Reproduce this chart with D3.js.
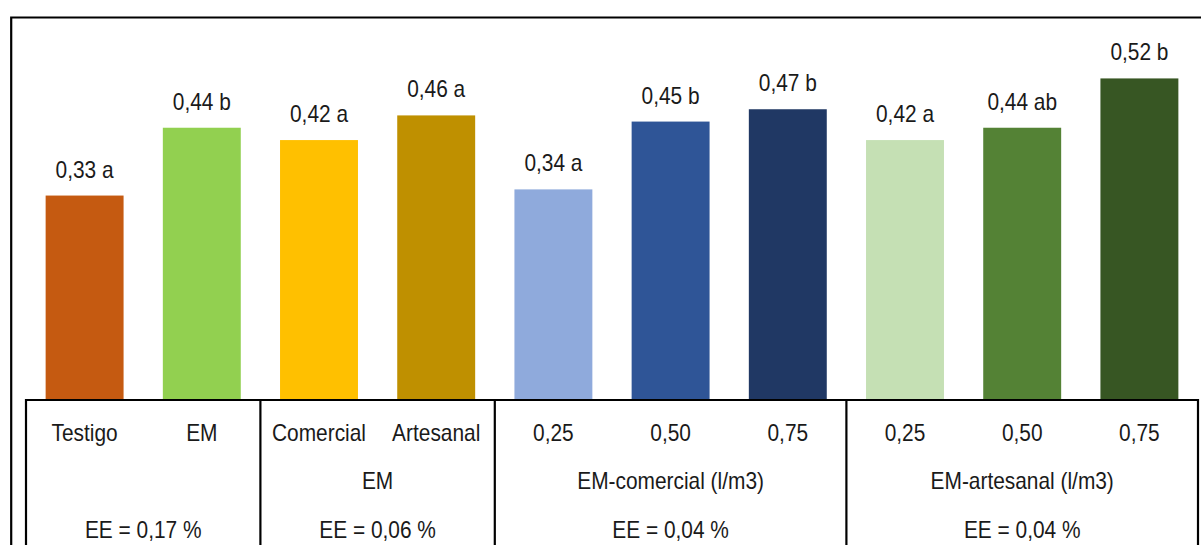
<!DOCTYPE html>
<html>
<head>
<meta charset="utf-8">
<script src="https://cdn.jsdelivr.net/npm/d3@7"></script>
<style>
  body { margin: 0; background: #fff; }
  svg text { font-family: "Liberation Sans", Arial, sans-serif; fill: #1a1a1a; }
</style>
</head>
<body>
<svg id="chart"></svg>
<script>
// bar values and significance letters
const categories = ["Testigo", "EM", "Comercial", "Artesanal", "0,25", "0,50", "0,75", "0,25", "0,50", "0,75"];
const values = [0.33, 0.44, 0.42, 0.46, 0.34, 0.45, 0.47, 0.42, 0.44, 0.52];
const letters = ["a", "b", "a", "a", "a", "b", "b", "a", "ab", "b"];
const colors = ["#C55A11", "#92D050", "#FFC000", "#BF9000", "#8FAADC", "#2F5597", "#203864", "#C5E0B4", "#548235", "#375623"];

// groups under the bars
const groupNames = ["", "EM", "EM-comercial (l/m3)", "EM-artesanal (l/m3)"];
const groupSizes = [2, 2, 3, 3];
const eeLabels = ["EE = 0,17 %", "EE = 0,06 %", "EE = 0,04 %", "EE = 0,04 %"];

const width = 1201, height = 545;
const base = 399;
const narrow = 0.87; // the original font is a condensed one

const svg = d3.select("#chart").attr("width", width).attr("height", height);

const x = d3.scaleBand()
    .domain(d3.range(values.length))
    .range([26, 1198])
    .paddingInner(0.335)
    .paddingOuter(0.1675);

const y = d3.scaleLinear().domain([0, 0.6]).range([base, base - 0.6 * 616.5]);

// places a text at (px, py) squeezed horizontally
function place(sel, px, py) {
    sel.attr("transform", (d, i) => `translate(${px(d, i)},${py(d, i)}) scale(${narrow},1)`)
        .attr("text-anchor", "middle")
        .attr("font-size", 24);
}

// outer frame (top + left only)
svg.append("path")
    .attr("d", `M11.2,${height} V17.5 H${width}`)
    .attr("fill", "none")
    .attr("stroke", "#000")
    .attr("stroke-width", 2.2);

// bars
svg.append("g").selectAll("rect")
    .data(values)
    .join("rect")
    .attr("x", (d, i) => x(i))
    .attr("y", d => y(d))
    .attr("width", x.bandwidth())
    .attr("height", d => y(0) - y(d))
    .attr("fill", (d, i) => colors[i]);

// value labels
svg.append("g").selectAll("text")
    .data(values)
    .join("text")
    .call(place, (d, i) => x(i) + x.bandwidth() / 2, d => y(d) - 18)
    .text((d, i) => d.toFixed(2).replace(".", ",") + " " + letters[i]);

// table below
const step = x.step();
const half = (step - x.bandwidth()) / 2;
let start = 0;
const groups = groupSizes.map((n, g) => {
    const x0 = x(start) - half;
    const x1 = x(start + n - 1) + x.bandwidth() + half;
    start += n;
    return {x0, x1, name: groupNames[g], ee: eeLabels[g]};
});

const table = svg.append("g");
table.append("line")
    .attr("x1", groups[0].x0).attr("x2", groups[groups.length - 1].x1)
    .attr("y1", base + 1).attr("y2", base + 1)
    .attr("stroke", "#000").attr("stroke-width", 2.2);

const edges = [groups[0].x0, ...groups.map(g => g.x1)];
table.selectAll(".div")
    .data(edges)
    .join("line")
    .attr("class", "div")
    .attr("x1", d => d).attr("x2", d => d)
    .attr("y1", base).attr("y2", height)
    .attr("stroke", "#000").attr("stroke-width", 2.2);

table.selectAll(".cat")
    .data(categories)
    .join("text")
    .attr("class", "cat")
    .call(place, (d, i) => x(i) + x.bandwidth() / 2, () => 441)
    .text(d => d);

table.selectAll(".grp")
    .data(groups)
    .join("text")
    .attr("class", "grp")
    .call(place, d => (d.x0 + d.x1) / 2, () => 489)
    .text(d => d.name);

table.selectAll(".ee")
    .data(groups)
    .join("text")
    .attr("class", "ee")
    .call(place, d => (d.x0 + d.x1) / 2, () => 538)
    .text(d => d.ee);
</script>
</body>
</html>
